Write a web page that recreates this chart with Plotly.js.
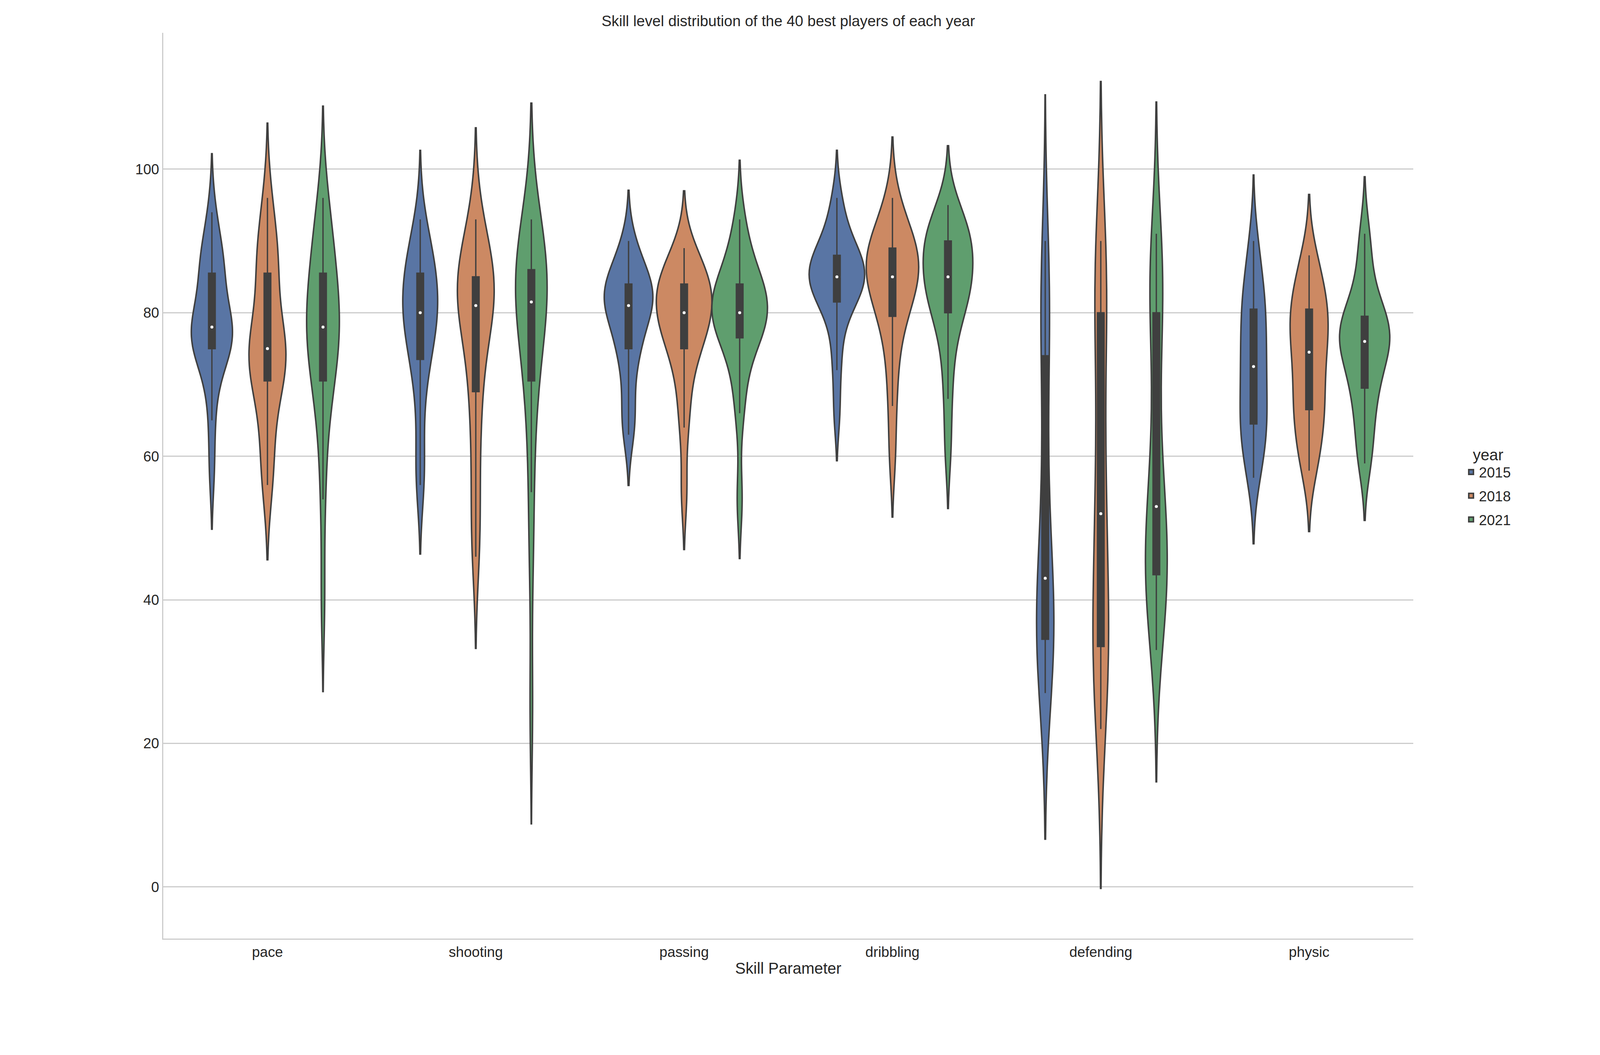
<!DOCTYPE html>
<html>
<head>
<meta charset="utf-8">
<script src="https://cdn.plot.ly/plotly-3.0.1.min.js"></script>
<style>html,body{margin:0;padding:0;background:#fff;overflow:hidden}#chart{width:100vw;height:100vh}</style>
</head>
<body>
<div id="chart"></div>
<script>
const skills = ['pace', 'shooting', 'passing', 'dribbling', 'defending', 'physic'];
const years = ['2015', '2018', '2021'];
const colors = ['#5975a4', '#cc8963', '#5f9e6e'];

// estimated ratings of the 40 best players (sampled), per skill and year
const pace2015 = [94,90,88,87,86,85,82,80,79,78,78,77,76,76,75,75,74,70,65,58];
const pace2018 = [96,92,89,87,86,85,80,77,76,75,75,74,73,72,71,70,66,62,58,56];
const pace2021 = [96,93,90,88,86,85,83,80,79,78,78,77,76,74,71,70,68,62,54,40];
const shooting2015 = [93,90,88,87,86,85,84,82,81,80,80,79,78,76,74,73,70,64,58,56];
const shooting2018 = [93,90,88,86,85,85,84,83,82,81,81,80,78,74,70,68,62,56,50,46];
const shooting2021 = [93,91,89,88,86,86,85,84,83,82,81,80,79,76,72,69,64,55,46,25];
const passing2015 = [90,88,86,85,84,84,83,82,82,81,81,80,79,77,75,75,72,68,65,63];
const passing2018 = [89,87,86,85,84,84,83,82,81,80,80,79,78,77,75,75,72,68,64,55];
const passing2021 = [93,90,87,85,84,84,83,82,81,80,80,79,79,78,77,76,74,70,66,54];
const dribbling2015 = [96,93,91,89,88,88,87,86,86,85,85,84,84,83,82,81,80,76,72,66];
const dribbling2018 = [96,93,91,90,89,89,88,87,86,85,85,84,83,82,80,79,76,72,67,60];
const dribbling2021 = [95,93,92,91,90,90,89,88,86,85,85,84,83,82,80,80,77,73,68,61];
const defending2015 = [90,86,82,79,78,70,62,55,48,44,42,40,38,36,35,34,33,32,30,27];
const defending2018 = [90,88,85,83,82,78,70,62,56,53,51,45,40,36,34,33,32,30,26,22];
const defending2021 = [91,88,85,83,82,78,70,62,56,54,52,48,46,45,44,43,42,40,37,33];
const physic2015 = [90,87,84,82,81,80,78,76,74,73,72,70,68,66,65,64,63,61,59,57];
const physic2018 = [88,86,84,82,81,80,79,78,76,75,74,72,70,68,67,66,64,62,60,58];
const physic2021 = [91,88,84,81,80,79,78,77,77,76,76,75,74,72,70,69,67,64,61,59];

const data = {
  '2015': [pace2015, shooting2015, passing2015, dribbling2015, defending2015, physic2015],
  '2018': [pace2018, shooting2018, passing2018, dribbling2018, defending2018, physic2018],
  '2021': [pace2021, shooting2021, passing2021, dribbling2021, defending2021, physic2021]
};

function median(a) {
  const s = a.slice().sort((p, q) => p - q);
  const m = Math.floor(s.length / 2);
  return s.length % 2 ? s[m] : (s[m - 1] + s[m]) / 2;
}
// scott-like bandwidth (seaborn default) for 40 players
function scottBw(a) {
  const mu = a.reduce((p, q) => p + q, 0) / a.length;
  const sd = Math.sqrt(a.reduce((p, q) => p + (q - mu) * (q - mu), 0) / (a.length - 1));
  return sd * Math.pow(40, -0.2);
}

const W = window.innerWidth, H = window.innerHeight;
const s = W / 4800;

const traces = [];
years.forEach((yr, i) => {
  data[yr].forEach((vals, k) => {
    traces.push({
      type: 'violin', name: yr, x: vals.map(() => skills[k]), y: vals,
      offsetgroup: yr, legendgroup: yr, showlegend: k === 0,
      fillcolor: colors[i], opacity: 1,
      line: { color: '#3f3f3f', width: 4.5 * s },
      points: false, spanmode: 'soft', bandwidth: scottBw(vals),
      box: { visible: true, width: 0.12, fillcolor: '#3f3f3f', line: { color: '#3f3f3f', width: 4 * s } },
      meanline: { visible: false },
      hoveron: 'violins'
    });
  });
});
years.forEach((yr, i) => {
  traces.push({
    type: 'scatter', mode: 'markers', x: skills, y: data[yr].map(median),
    offsetgroup: yr, showlegend: false,
    marker: { color: 'white', size: 9 * s }
  });
});

Plotly.newPlot('chart', traces, {
  width: W, height: H,
  paper_bgcolor: '#fff', plot_bgcolor: '#fff',
  font: { family: 'Liberation Sans, Arial, sans-serif', size: 43 * s, color: '#262626' },
  title: { text: 'Skill level distribution of the 40 best players of each year', x: 0.5, xref: 'paper', y: 0.985, font: { size: 45 * s } },
  margin: { l: 490 * s, r: 560 * s, t: 98 * s, b: 349 * s },
  violinmode: 'group', violingap: 0.2, violingroupgap: 0,
  scattermode: 'group', scattergap: 0.2,
  xaxis: {
    title: { text: 'Skill Parameter', font: { size: 47 * s }, standoff: 10 * s },
    showline: true, linecolor: '#cccccc', linewidth: 4 * s, ticks: '', showgrid: false,
    tickfont: { size: 43 * s }
  },
  yaxis: {
    range: [-7.2, 119], tickvals: [0, 20, 40, 60, 80, 100],
    showline: true, linecolor: '#cccccc', linewidth: 4 * s, ticks: '',
    showgrid: true, gridcolor: '#cccccc', gridwidth: 3 * s, zeroline: false,
    tickfont: { size: 43 * s }, ticklabelstandoff: 40 * s
  },
  legend: {
    x: 1.04, y: 0.5, xanchor: 'left', yanchor: 'middle',
    title: { text: 'year', font: { size: 47 * s }, side: 'top center' },
    font: { size: 43 * s }, bgcolor: 'rgba(0,0,0,0)'
  },
  showlegend: true
}, { displayModeBar: false });
</script>
</body>
</html>
